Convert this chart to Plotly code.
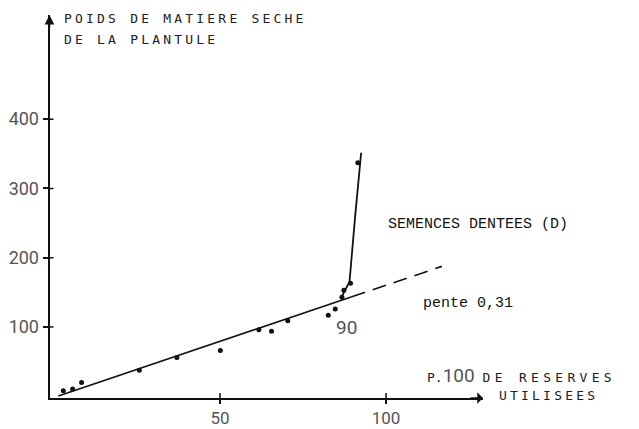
import plotly.graph_objects as go

# ---------------- data ----------------
x_pts = [2.8, 5.6, 8.3, 25.7, 37.0, 50.1, 61.7, 65.5, 70.4, 82.6, 84.7, 86.7, 87.3, 89.3, 91.5]
y_pts = [8, 10.5, 20, 37.5, 56, 66, 96, 94, 109, 117, 126, 143, 153, 163, 337]

fit_solid_x = [1.3, 89.7]
fit_solid_y = [0.4, 143.6]
fit_dash_x = [89.7, 116.8]
fit_dash_y = [143.6, 187.5]

steep_x = [86.4, 89.0, 90.7, 92.5]
steep_y = [141.4, 165.4, 260, 351.5]

x_ticks = [50, 100]
x_tick_labels = ["50", "100"]
y_ticks = [100, 200, 300, 400]
y_tick_labels = ["100", "200", "300", "400"]

W, H = 639, 429
X_RANGE = [-1.36, 129.2]
Y_RANGE = [-2.5, 550.4]

TICK_FONT = "Roboto, Liberation Sans Narrow, sans-serif"
LETTER_FONT = "DejaVu Sans Mono, Liberation Mono, monospace"
TYPE_FONT = "Liberation Mono, Courier New, monospace"
INK = "#111111"
GREY = "#555555"


def px(x):
    return x / W


def py(y):
    return 1 - y / H


fig = go.Figure()

fig.add_trace(go.Scatter(x=fit_solid_x, y=fit_solid_y, mode="lines",
                         line=dict(color=INK, width=1.6), hoverinfo="skip"))
fig.add_trace(go.Scatter(x=fit_dash_x, y=fit_dash_y, mode="lines",
                         line=dict(color=INK, width=1.6, dash="14px,8px"), hoverinfo="skip"))
fig.add_trace(go.Scatter(x=steep_x, y=steep_y, mode="lines",
                         line=dict(color=INK, width=1.8), hoverinfo="skip"))
fig.add_trace(go.Scatter(x=x_pts, y=y_pts, mode="markers",
                         marker=dict(color=INK, size=5), hoverinfo="skip"))

axis_common = dict(showgrid=False, zeroline=False, showline=True, linecolor=INK, linewidth=1.8,
                   ticks="outside", tickwidth=1.5, tickcolor=INK, automargin=False)

fig.update_layout(
    width=W, height=H,
    margin=dict(l=0, r=0, t=0, b=0, pad=0),
    paper_bgcolor="white", plot_bgcolor="white",
    showlegend=False,
    xaxis=dict(domain=[px(49.5), px(483)], range=X_RANGE, tickvals=x_ticks, ticktext=x_tick_labels,
               ticklen=4, tickfont=dict(family=TICK_FONT, size=17, color=GREY), **axis_common),
    yaxis=dict(domain=[py(398), py(15)], range=Y_RANGE, tickvals=y_ticks, ticktext=y_tick_labels,
               ticklen=5, tickfont=dict(family=TICK_FONT, size=18, color=GREY), **axis_common),
)

# inner halves of the tick crosses
for t in x_ticks:
    fig.add_shape(type="line", xref="x", yref="y", x0=t, x1=t, ysizemode="pixel", yanchor=Y_RANGE[0],
                  y0=0, y1=5, line=dict(color=INK, width=1.5))
for t in y_ticks:
    fig.add_shape(type="line", xref="x", yref="y", y0=t, y1=t, xsizemode="pixel", xanchor=X_RANGE[0],
                  x0=0, x1=4, line=dict(color=INK, width=1.5))

# axis arrows
fig.add_annotation(x=X_RANGE[0], y=Y_RANGE[1], xref="x", yref="y", ax=0, ay=14, text="",
                   showarrow=True, arrowhead=2, arrowsize=1.2, arrowwidth=1.6, arrowcolor=INK)
fig.add_annotation(x=X_RANGE[1], y=Y_RANGE[0], xref="x", yref="y", ax=-14, ay=0, text="",
                   showarrow=True, arrowhead=1, arrowsize=1.2, arrowwidth=1.6, arrowcolor=INK)

# texts
fig.add_annotation(x=px(62), y=py(18), xref="paper", yref="paper", xanchor="left", yanchor="middle",
                   text="<span style='letter-spacing:3.2px'>POIDS DE MATIERE SECHE</span>",
                   showarrow=False, font=dict(family=LETTER_FONT, size=13, color="#222"))
fig.add_annotation(x=px(62), y=py(39), xref="paper", yref="paper", xanchor="left", yanchor="middle",
                   text="<span style='letter-spacing:3.2px'>DE LA PLANTULE</span>",
                   showarrow=False, font=dict(family=LETTER_FONT, size=13, color="#222"))

fig.add_annotation(x=px(425), y=py(375), xref="paper", yref="paper", xanchor="left", yanchor="middle",
                   text="P.<span style='font-family:Roboto, sans-serif;"
                        "font-size:19px;color:#555'>100</span> "
                        "<span style='letter-spacing:4.3px'>DE RESERVES</span>",
                   showarrow=False, font=dict(family=LETTER_FONT, size=13, color="#222"))
fig.add_annotation(x=px(497), y=py(395), xref="paper", yref="paper", xanchor="left", yanchor="middle",
                   text="<span style='letter-spacing:3.2px'>UTILISEES</span>",
                   showarrow=False, font=dict(family=LETTER_FONT, size=13, color="#222"))

fig.add_annotation(x=px(386), y=py(224), xref="paper", yref="paper", xanchor="left", yanchor="middle",
                   text="SEMENCES DENTEES (D)", showarrow=False,
                   font=dict(family=TYPE_FONT, size=15, color=INK))
fig.add_annotation(x=px(421), y=py(303), xref="paper", yref="paper", xanchor="left", yanchor="middle",
                   text="pente 0,31", showarrow=False,
                   font=dict(family=TYPE_FONT, size=15, color=INK))
fig.add_annotation(x=px(347), y=py(327), xref="paper", yref="paper", xanchor="center", yanchor="middle",
                   text="90", showarrow=False,
                   font=dict(family=TICK_FONT, size=19, color=GREY))

fig.write_html("out.html", config={"displayModeBar": False},
               post_script="document.body.style.margin='0';document.body.style.padding='0';")
